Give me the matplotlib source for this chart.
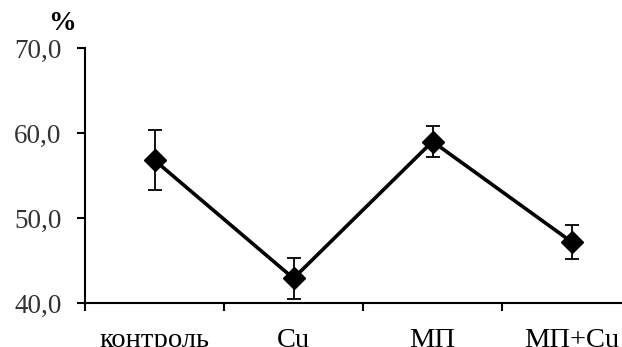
import matplotlib.pyplot as plt

categories = ["контроль", "Cu", "МП", "МП+Cu"]
values = [56.8, 42.9, 59.0, 47.2]
errors = [3.5, 2.4, 1.8, 2.0]

plt.rcParams['font.family'] = ['Liberation Serif', 'DejaVu Serif']

fig = plt.figure(figsize=(6.22, 3.47), dpi=100)
# axes runs past the right edge like in the original
ax = fig.add_axes([85 / 622, 44 / 347, 556 / 622, 255 / 347])

x = list(range(len(categories)))
ax.errorbar(x, values, yerr=errors, color='black', lw=2.6, marker='D',
            markersize=11, ecolor='black', elinewidth=1.3, capsize=5,
            capthick=1.3)

ax.set_xlim(-0.5, len(categories) - 0.5)
ax.set_ylim(40, 70)
ax.set_yticks([40, 50, 60, 70])
ax.set_yticklabels(["40,0", "50,0", "60,0", "70,0"], fontsize=19.5, color='#333333')

ax.set_xticks([i - 0.5 for i in x])
ax.set_xticklabels([])
ax.set_xticks(x, minor=True)
ax.set_xticklabels(categories, minor=True, fontsize=20.5)
ax.tick_params(axis='x', which='minor', length=0, pad=18)
ax.tick_params(axis='x', which='major', length=6, width=1.5, direction='out')
ax.tick_params(axis='y', length=6, width=1.5, direction='out', pad=11)

for s in ['top', 'right']:
    ax.spines[s].set_visible(False)
for s in ['left', 'bottom']:
    ax.spines[s].set_linewidth(1.5)

fig.text(62 / 622, 1 - 23 / 347, "%", fontsize=20, fontweight='bold',
         ha='center', va='center')

fig.savefig("out.png", dpi=100)
